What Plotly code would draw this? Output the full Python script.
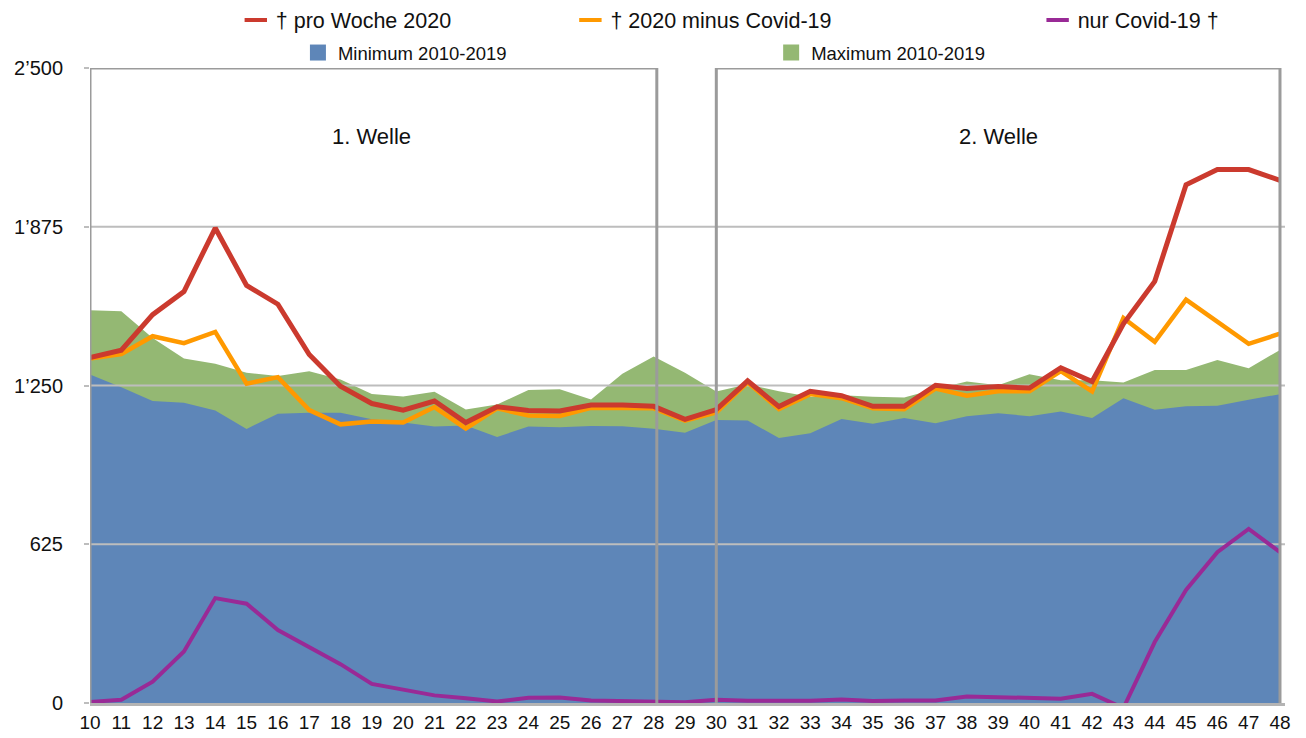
import plotly.graph_objects as go

weeks = list(range(10, 49))

tote_2020 = [1360, 1389, 1529, 1620, 1870, 1644, 1570, 1372, 1247, 1179, 1153, 1189, 1104,
             1166, 1152, 1150, 1173, 1173, 1168, 1117, 1155, 1268, 1167, 1227, 1210, 1168,
             1168, 1251, 1238, 1246, 1240, 1320, 1266, 1493, 1660, 2040, 2100, 2100, 2058]

ohne_covid = [1356, 1374, 1444, 1417, 1461, 1257, 1283, 1153, 1097, 1108, 1104, 1165, 1081,
              1160, 1132, 1130, 1162, 1162, 1160, 1112, 1144, 1262, 1157, 1216, 1200, 1160,
              1157, 1238, 1210, 1227, 1227, 1307, 1227, 1516, 1422, 1588, 1503, 1414, 1454]

nur_covid = [4, 13, 84, 203, 413, 391, 287, 218, 153, 75, 53, 30, 19,
             6, 21, 22, 10, 8, 6, 3, 13, 9, 9, 9, 14, 8,
             10, 10, 26, 23, 18, 17, 36, -20, 240, 445, 594, 685, 594]

maximum = [1546, 1542, 1437, 1356, 1336, 1300, 1287, 1306, 1274, 1217, 1207, 1225, 1156,
           1175, 1232, 1235, 1195, 1296, 1364, 1300, 1226, 1255, 1227, 1206, 1212, 1206,
           1203, 1236, 1266, 1251, 1294, 1271, 1271, 1262, 1311, 1311, 1350, 1318, 1390]

minimum = [1293, 1243, 1189, 1182, 1152, 1079, 1139, 1143, 1143, 1117, 1104, 1089, 1093,
           1047, 1089, 1086, 1091, 1090, 1080, 1064, 1114, 1112, 1043, 1062, 1118, 1099,
           1122, 1101, 1129, 1141, 1129, 1148, 1122, 1200, 1155, 1168, 1170, 1194, 1216]

y_ticks = [0, 625, 1250, 1875, 2500]
y_ticktext = ["0", "625", "1\u2019250", "1\u2019875", "2\u2019500"]
grid_vals = [625, 1250, 1875]

waves = ["1. Welle", "2. Welle"]
wave_centers = [19, 39]
wave_spans = [(10, 28.1), (30, 48)]

RED = "#CB3A2E"
ORANGE = "#FF9900"
PURPLE = "#992A96"
BLUE = "#5E86B8"
GREEN = "#94B873"
FONT = "Liberation Sans, Arial, Helvetica, sans-serif"

fig = go.Figure()

# areas
fig.add_trace(go.Scatter(x=weeks, y=maximum, fill="tozeroy", mode="none",
                         fillcolor=GREEN, showlegend=False, hoverinfo="skip"))
fig.add_trace(go.Scatter(x=weeks, y=minimum, fill="tozeroy", mode="none",
                         fillcolor=BLUE, showlegend=False, hoverinfo="skip"))

# gridlines (between areas and lines)
for g in grid_vals:
    fig.add_trace(go.Scatter(x=[9.5, 48.16], y=[g, g], mode="lines",
                             line=dict(color="#BDBDBD", width=2),
                             showlegend=False, hoverinfo="skip"))

# lines
fig.add_trace(go.Scatter(x=weeks, y=nur_covid, mode="lines",
                         line=dict(color=PURPLE, width=4), showlegend=False))
fig.add_trace(go.Scatter(x=weeks, y=ohne_covid, mode="lines",
                         line=dict(color=ORANGE, width=4.5), showlegend=False))
fig.add_trace(go.Scatter(x=weeks, y=tote_2020, mode="lines",
                         line=dict(color=RED, width=5), showlegend=False))

# legend entries
legend_items = [
    ("\u2020 pro Woche 2020", RED, "line-ew", "legend"),
    ("\u2020 2020 minus Covid-19", ORANGE, "line-ew", "legend2"),
    ("nur Covid-19 \u2020", PURPLE, "line-ew", "legend3"),
    ("Minimum 2010-2019", BLUE, "square", "legend4"),
    ("Maximum 2010-2019", GREEN, "square", "legend5"),
]
for name, col, sym, lg in legend_items:
    if sym == "line-ew":
        mk = dict(symbol=sym, size=16, line=dict(color=col, width=4), color=col)
    else:
        mk = dict(symbol=sym, size=16, color=col, line=dict(width=0))
    fig.add_trace(go.Scatter(x=[None], y=[None], mode="markers", name=name,
                             marker=mk, legend=lg, showlegend=True))

def leg(x, y, fs):
    return dict(x=x, y=y, xanchor="left", yanchor="middle", orientation="h",
                bgcolor="rgba(0,0,0,0)", font=dict(family=FONT, size=fs, color="#111"),
                itemsizing="trace")

fig.update_layout(
    legend=leg(0.122, 1.0756, 21.5),
    legend2=leg(0.402, 1.0756, 21.5),
    legend3=leg(0.793, 1.0756, 21.5),
    legend4=leg(0.174, 1.0236, 18.5),
    legend5=leg(0.570, 1.0236, 18.5),
)

# boxes
for x0, x1 in wave_spans:
    fig.add_shape(type="path",
                  path=f"M {x0},0 L {x0},2500 L {x1},2500 L {x1},0",
                  xref="x", yref="y", layer="above",
                  line=dict(color="#9B9B9B", width=3))

for t, xc in zip(waves, wave_centers):
    fig.add_annotation(x=xc, y=2232, text=t, showarrow=False,
                       font=dict(family=FONT, size=22, color="#111"))

fig.update_layout(
    width=1306, height=738,
    margin=dict(l=90, r=21, t=68, b=35, autoexpand=False),
    paper_bgcolor="white", plot_bgcolor="white",
    font=dict(family=FONT, size=20, color="#111"),
    xaxis=dict(range=[10, 48.16], tickmode="array", tickvals=weeks,
               ticktext=[str(w) for w in weeks], showgrid=False, zeroline=False,
               showline=True, linecolor="#B4B4B4", linewidth=3, ticks="",
               tickfont=dict(family=FONT, size=19, color="#111"), fixedrange=True,
               automargin=False),
    yaxis=dict(range=[0, 2500], tickmode="array", tickvals=y_ticks, ticktext=y_ticktext,
               showgrid=False, zeroline=False, showline=False, ticks="outside",
               ticklen=5, tickcolor="#BDBDBD", tickwidth=2, ticklabelstandoff=17,
               tickfont=dict(family=FONT, size=20, color="#111"), fixedrange=True,
               automargin=False),
)

fig.write_html("out.html",
               config={"displayModeBar": False},
               post_script="document.body.style.margin='0';document.body.style.overflow='hidden';")
